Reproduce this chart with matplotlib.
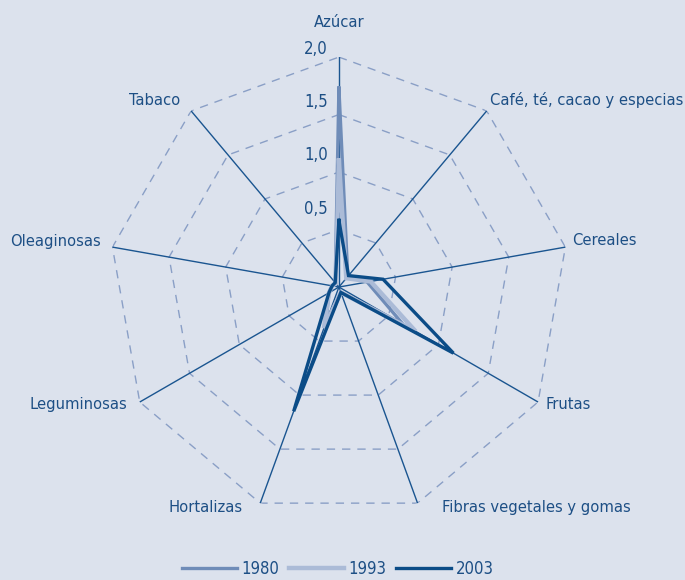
import numpy as np
import matplotlib.pyplot as plt

categories = ['Azúcar', 'Café, té, cacao y especias', 'Cereales', 'Frutas',
              'Fibras vegetales y gomas', 'Hortalizas', 'Leguminosas',
              'Oleaginosas', 'Tabaco']
v1980 = [1.73, 0.12, 0.25, 0.64, 0.05, 0.33, 0.10, 0.06, 0.05]
v1993 = [1.10, 0.10, 0.28, 0.77, 0.05, 0.38, 0.10, 0.06, 0.04]
v2003 = [0.58, 0.13, 0.39, 1.15, 0.05, 1.15, 0.10, 0.06, 0.05]
rings = [0.5, 1.0, 1.5, 2.0]
ring_labels = ['0,5', '1,0', '1,5', '2,0']

bg = '#dce2ed'
txt = '#1d4f85'
plt.rcParams['font.family'] = ['DejaVu Sans']
plt.rcParams['font.stretch'] = 'condensed'

fig = plt.figure(figsize=(6.85, 5.8), dpi=100, facecolor=bg)
ax = fig.add_axes([0.159, 0.1086, 0.6715, 0.793], projection='polar')
ax.set_theta_offset(np.pi / 2)
ax.set_theta_direction(-1)
ax.set_ylim(0, 2.0)
ax.axis('off')

n = len(categories)
theta = np.arange(n) * 2 * np.pi / n
tc = np.append(theta, theta[0])

# dashed polygon grid
for r in rings:
    ax.plot(tc, [r] * (n + 1), color='#8a9fc6', lw=1, dashes=(6, 5), zorder=1)
# spokes
for t in theta:
    ax.plot([t, t], [0, 2.0], color='#1a5590', lw=1, zorder=2)

series = [('1980', v1980, '#6f8cb8', 2.4),
          ('1993', v1993, '#abbbd7', 3.2),
          ('2003', v2003, '#0b4c87', 2.4)]
for name, vals, col, lw in series:
    ax.plot(tc, vals + vals[:1], color=col, lw=lw, label=name, zorder=3,
            solid_joinstyle='miter')

# category labels: (ha, dx, dy) offsets in pixels from spoke end
offs = [('center', 0, 35), ('left', 3, 11), ('left', 7, 7), ('left', 7, -2),
        ('left', 24, -4), ('right', -18, -4), ('right', -12, -2),
        ('right', -12, 6), ('right', -11, 10)]
for t, lab, (ha, dx, dy) in zip(theta, categories, offs):
    ax.annotate(lab, (t, 2.0), xytext=(dx * 0.72, dy * 0.72),
                textcoords='offset points', ha=ha, va='center', color=txt,
                fontsize=11.8, annotation_clip=False)

# radial labels
ring_dy = [21, 17, 13, 8]
for r, lab, dy in zip(rings, ring_labels, ring_dy):
    ax.annotate(lab, (0, r), xytext=(-8, dy * 0.72), textcoords='offset points',
                ha='right', va='center', color=txt, fontsize=12)

fig.legend(loc='lower center', bbox_to_anchor=(0.493, -0.022), ncol=3,
           frameon=False, handlelength=3.3, handletextpad=0.25,
           columnspacing=0.6, fontsize=12, labelcolor=txt)

fig.savefig('out.png', dpi=100, facecolor=bg)
